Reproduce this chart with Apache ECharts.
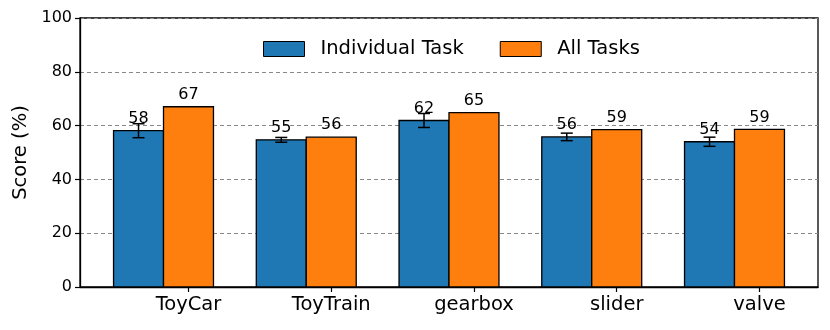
<!DOCTYPE html>
<html>
<head>
<meta charset="utf-8">
<script src="https://cdn.jsdelivr.net/npm/echarts@6/dist/echarts.min.js"></script>
<style>
  html, body { margin: 0; padding: 0; background: #fff; }
  #main { width: 830px; height: 330px; }
</style>
</head>
<body>
<div id="main"></div>
<script>
// data
const categories = ['ToyCar', 'ToyTrain', 'gearbox', 'slider', 'valve'];
const individual = [58.1, 54.7, 61.9, 55.8, 54.0];
const individualErr = [2.6, 0.9, 2.6, 1.4, 1.7];
const allTasks = [67.0, 55.7, 64.8, 58.5, 58.6];
const yTicks = [0, 20, 40, 60, 80, 100];

const W = 0.35; // bar width in axis units
const FONT = 'DejaVu Sans';

// tick labels sit under the second bar of each group
const labelPos = categories.map((c, i) => i + W / 2);

function barItem(offset, color, withErr) {
  return function (params, api) {
    const xi = api.value(0);
    const v = api.value(1);
    const xc = xi + offset;
    const tl = api.coord([xc - W / 2, v]);
    const br = api.coord([xc + W / 2, 0]);
    const mid = api.coord([xc, v]);
    const kids = [{
      type: 'rect',
      shape: { x: tl[0], y: tl[1], width: br[0] - tl[0], height: br[1] - tl[1] },
      style: { fill: color, stroke: '#000', lineWidth: 1.3 }
    }, {
      type: 'text',
      style: {
        text: String(Math.round(v)), x: mid[0], y: mid[1] - 4,
        align: 'center', verticalAlign: 'bottom',
        font: '16px "' + FONT + '"', fill: '#000'
      }
    }];
    if (withErr) {
      const e = api.value(2);
      const hi = api.coord([xc, v + e]);
      const lo = api.coord([xc, v - e]);
      const ls = { stroke: '#000', lineWidth: 1.5 };
      kids.push({ type: 'line', shape: { x1: hi[0], y1: hi[1], x2: lo[0], y2: lo[1] }, style: ls });
      kids.push({ type: 'line', shape: { x1: hi[0] - 6, y1: hi[1], x2: hi[0] + 6, y2: hi[1] }, style: ls });
      kids.push({ type: 'line', shape: { x1: lo[0] - 6, y1: lo[1], x2: lo[0] + 6, y2: lo[1] }, style: ls });
    }
    return { type: 'group', children: kids };
  };
}

const chart = echarts.init(document.getElementById('main'));
chart.setOption({
  animation: false,
  grid: {
    left: 80, right: 12, top: 18, bottom: 43,
    show: true, borderColor: '#000', borderWidth: 1.3
  },
  legend: {
    left: 258, top: 34,
    icon: 'rect', itemWidth: 41, itemHeight: 15, itemGap: 36,
    textStyle: { fontFamily: FONT, fontSize: 19.5, color: '#000', padding: [0, 0, 0, 11] },
    data: [
      { name: 'Individual Task', itemStyle: { color: '#1f77b4', borderColor: '#000', borderWidth: 1 } },
      { name: 'All Tasks', itemStyle: { color: '#ff7f0e', borderColor: '#000', borderWidth: 1 } }
    ]
  },
  xAxis: {
    type: 'value', min: -0.585, max: 4.585,
    splitLine: { show: false },
    axisLine: { onZero: false, lineStyle: { color: '#000', width: 1.3 } },
    axisTick: { show: true, inside: false, customValues: labelPos, length: 5, lineStyle: { color: '#000', width: 1.2 } },
    axisLabel: {
      customValues: labelPos, margin: 8,
      fontFamily: FONT, fontSize: 19.5, color: '#000',
      formatter: v => categories[Math.round(v - W / 2)]
    }
  },
  yAxis: {
    type: 'value', min: yTicks[0], max: yTicks[yTicks.length - 1], interval: 20,
    name: 'Score (%)', nameLocation: 'middle', nameGap: 49,
    nameTextStyle: { fontFamily: FONT, fontSize: 19.5, color: '#000' },
    axisLine: { show: true, onZero: false, lineStyle: { color: '#000', width: 1.3 } },
    axisTick: { show: true, length: 5, lineStyle: { color: '#000', width: 1.2 } },
    axisLabel: { margin: 8, fontFamily: FONT, fontSize: 16, color: '#000' },
    splitLine: { lineStyle: { color: '#888', type: [4, 3], width: 1 } }
  },
  series: [{
    name: 'Individual Task', type: 'custom',
    itemStyle: { color: '#1f77b4' },
    renderItem: barItem(-W / 2, '#1f77b4', true),
    encode: { x: 0, y: 1 },
    data: categories.map((c, i) => [i, individual[i], individualErr[i]])
  }, {
    name: 'All Tasks', type: 'custom',
    itemStyle: { color: '#ff7f0e' },
    renderItem: barItem(W / 2, '#ff7f0e', false),
    encode: { x: 0, y: 1 },
    data: categories.map((c, i) => [i, allTasks[i]])
  }]
});
</script>
</body>
</html>
